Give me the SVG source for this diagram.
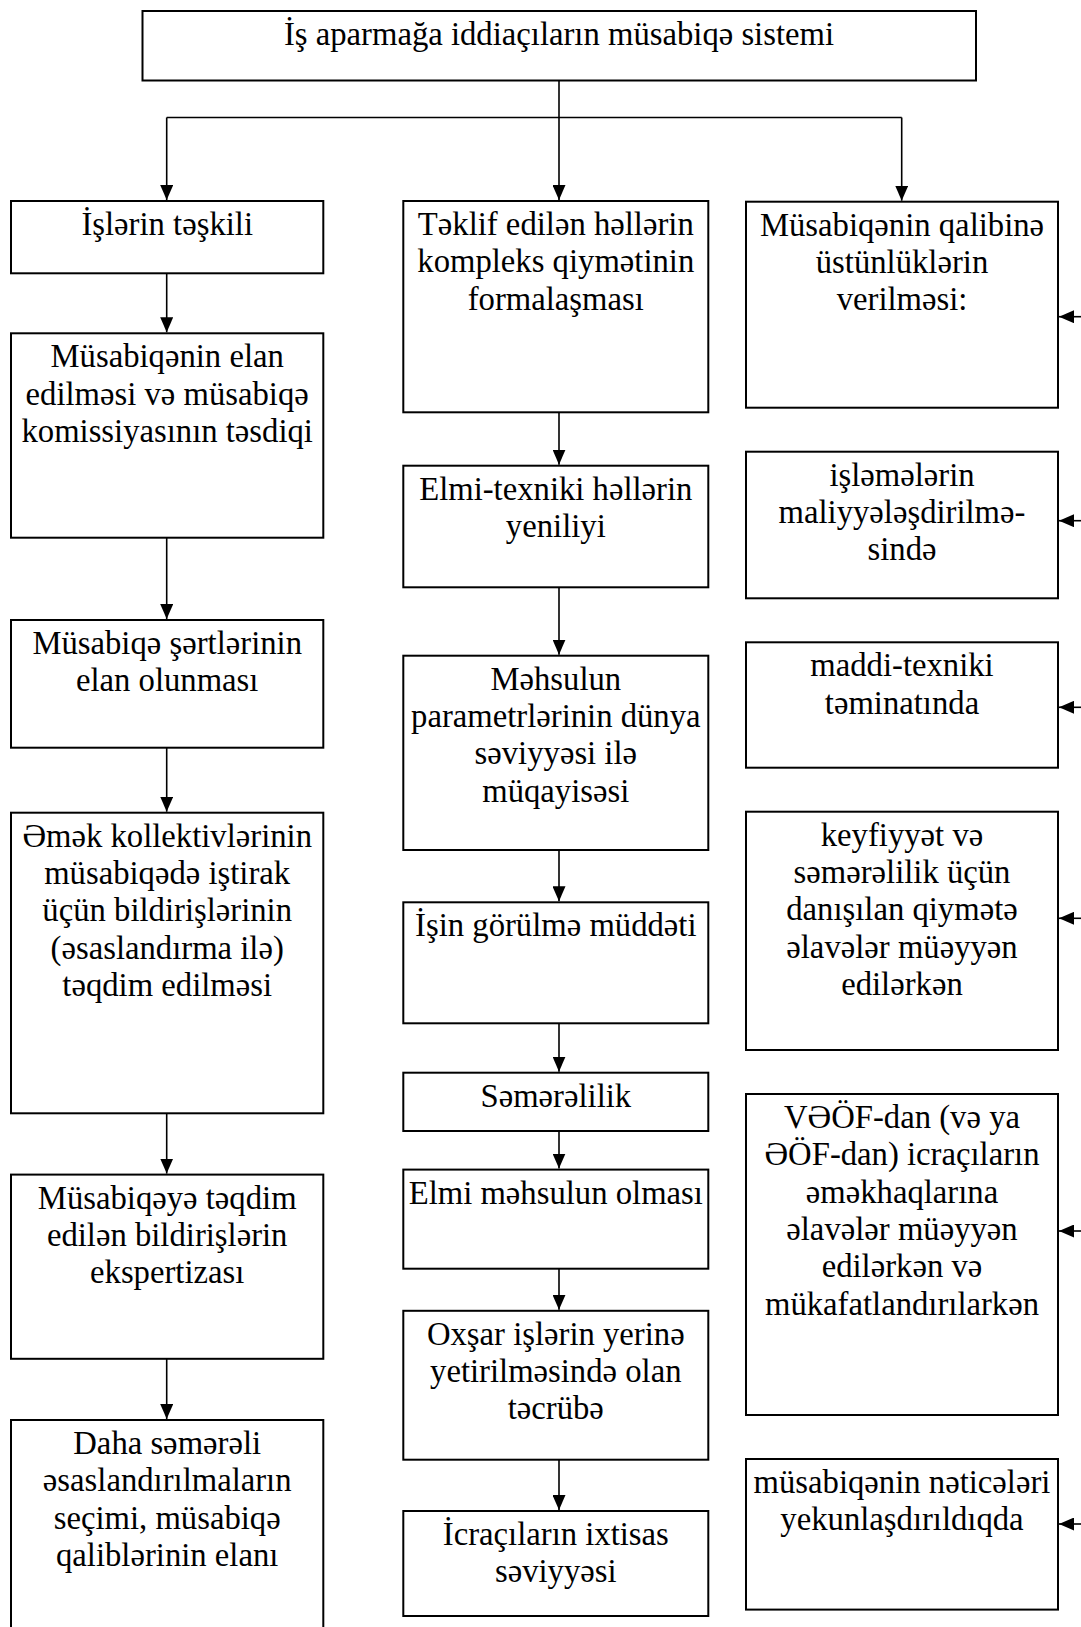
<svg xmlns="http://www.w3.org/2000/svg" width="1081" height="1627" viewBox="0 0 1081 1627">
<style>
  .box { fill: #ffffff; stroke: #000000; stroke-width: 2; }
  .t { font-family: "Liberation Serif", "Times New Roman", "DejaVu Serif", serif; font-size: 32.7px; fill: #000000; text-anchor: middle; }
  .ln { fill: none; stroke: #000000; stroke-width: 1.6; }
  .ar { fill: none; stroke: #000000; stroke-width: 1.6; marker-end: url(#ah); }
</style>
<defs>
  <marker id="ah" viewBox="0 0 15 13" refX="15" refY="6.5" markerWidth="15" markerHeight="13" markerUnits="userSpaceOnUse" orient="auto">
    <path d="M0,0 L15,6.5 L0,13 z" fill="#000000"/>
  </marker>
</defs>
<rect width="1081" height="1627" fill="#ffffff"/>

<g id="connectors">
  <line class="ar" x1="559" y1="80.5" x2="559" y2="200"/>
  <line class="ln" x1="166.7" y1="117.5" x2="901.7" y2="117.5"/>
  <line class="ar" x1="166.7" y1="117.5" x2="166.7" y2="200"/>
  <line class="ar" x1="901.7" y1="117.5" x2="901.7" y2="200.7"/>
  <line class="ar" x1="166.7" y1="273.3" x2="166.7" y2="332.3"/>
  <line class="ar" x1="166.7" y1="537.7" x2="166.7" y2="619"/>
  <line class="ar" x1="166.7" y1="747.7" x2="166.7" y2="811.7"/>
  <line class="ar" x1="166.7" y1="1113.3" x2="166.7" y2="1173.6"/>
  <line class="ar" x1="166.7" y1="1358.8" x2="166.7" y2="1419"/>
  <line class="ar" x1="559" y1="412.3" x2="559" y2="464.7"/>
  <line class="ar" x1="559" y1="587.3" x2="559" y2="654.7"/>
  <line class="ar" x1="559" y1="850" x2="559" y2="901.3"/>
  <line class="ar" x1="559" y1="1023.3" x2="559" y2="1071.7"/>
  <line class="ar" x1="559" y1="1131" x2="559" y2="1168.6"/>
  <line class="ar" x1="559" y1="1268.7" x2="559" y2="1309.8"/>
  <line class="ar" x1="559" y1="1459.7" x2="559" y2="1510"/>
  <line class="ar" x1="1083" y1="316.7" x2="1059" y2="316.7"/>
  <line class="ar" x1="1083" y1="520.7" x2="1059" y2="520.7"/>
  <line class="ar" x1="1083" y1="707.3" x2="1059" y2="707.3"/>
  <line class="ar" x1="1083" y1="918.3" x2="1059" y2="918.3"/>
  <line class="ar" x1="1083" y1="1231" x2="1059" y2="1231"/>
  <line class="ar" x1="1083" y1="1524" x2="1059" y2="1524"/>
</g>

<g id="n_top">
  <rect class="box" x="142.5" y="11" width="833.5" height="69.5"/>
  <text class="t" x="559" y="45">İş aparmağa iddiaçıların müsabiqə sistemi</text>
</g>

<g id="n_l1">
  <rect class="box" x="11" y="201" width="312.3" height="72.3"/>
  <text class="t" x="167.2" y="235">İşlərin təşkili</text>
</g>
<g id="n_l2">
  <rect class="box" x="11" y="333.3" width="312.3" height="204.4"/>
  <text class="t" x="167.2" y="367.3">Müsabiqənin elan</text>
  <text class="t" x="167.2" y="404.6">edilməsi və müsabiqə</text>
  <text class="t" x="167.2" y="441.9">komissiyasının təsdiqi</text>
</g>
<g id="n_l3">
  <rect class="box" x="11" y="620" width="312.3" height="127.7"/>
  <text class="t" x="167.2" y="654">Müsabiqə şərtlərinin</text>
  <text class="t" x="167.2" y="691.3">elan olunması</text>
</g>
<g id="n_l4">
  <rect class="box" x="11" y="812.7" width="312.3" height="300.6"/>
  <text class="t" x="167.2" y="846.7">Əmək kollektivlərinin</text>
  <text class="t" x="167.2" y="884">müsabiqədə iştirak</text>
  <text class="t" x="167.2" y="921.3">üçün bildirişlərinin</text>
  <text class="t" x="167.2" y="958.6">(əsaslandırma ilə)</text>
  <text class="t" x="167.2" y="995.9">təqdim edilməsi</text>
</g>
<g id="n_l5">
  <rect class="box" x="11" y="1174.6" width="312.3" height="184.2"/>
  <text class="t" x="167.2" y="1208.6">Müsabiqəyə təqdim</text>
  <text class="t" x="167.2" y="1245.9">edilən bildirişlərin</text>
  <text class="t" x="167.2" y="1283.2">ekspertizası</text>
</g>
<g id="n_l6">
  <rect class="box" x="11" y="1420" width="312.3" height="215"/>
  <text class="t" x="167.2" y="1454">Daha səmərəli</text>
  <text class="t" x="167.2" y="1491.3">əsaslandırılmaların</text>
  <text class="t" x="167.2" y="1528.6">seçimi, müsabiqə</text>
  <text class="t" x="167.2" y="1565.9">qaliblərinin elanı</text>
</g>

<g id="n_m1">
  <rect class="box" x="403.3" y="201" width="305" height="211.3"/>
  <text class="t" x="555.8" y="235">Təklif edilən həllərin</text>
  <text class="t" x="555.8" y="272.3">kompleks qiymətinin</text>
  <text class="t" x="555.8" y="309.6">formalaşması</text>
</g>
<g id="n_m2">
  <rect class="box" x="403.3" y="465.7" width="305" height="121.6"/>
  <text class="t" x="555.8" y="499.7">Elmi-texniki həllərin</text>
  <text class="t" x="555.8" y="537">yeniliyi</text>
</g>
<g id="n_m3">
  <rect class="box" x="403.3" y="655.7" width="305" height="194.3"/>
  <text class="t" x="555.8" y="689.7">Məhsulun</text>
  <text class="t" x="555.8" y="727">parametrlərinin dünya</text>
  <text class="t" x="555.8" y="764.3">səviyyəsi ilə</text>
  <text class="t" x="555.8" y="801.6">müqayisəsi</text>
</g>
<g id="n_m4">
  <rect class="box" x="403.3" y="902.3" width="305" height="121"/>
  <text class="t" x="555.8" y="936.3">İşin görülmə müddəti</text>
</g>
<g id="n_m5">
  <rect class="box" x="403.3" y="1072.7" width="305" height="58.3"/>
  <text class="t" x="555.8" y="1106.7">Səmərəlilik</text>
</g>
<g id="n_m6">
  <rect class="box" x="403.3" y="1169.6" width="305" height="99.1"/>
  <text class="t" x="555.8" y="1203.6">Elmi məhsulun olması</text>
</g>
<g id="n_m7">
  <rect class="box" x="403.3" y="1310.8" width="305" height="148.9"/>
  <text class="t" x="555.8" y="1344.8">Oxşar işlərin yerinə</text>
  <text class="t" x="555.8" y="1382.1">yetirilməsində olan</text>
  <text class="t" x="555.8" y="1419.4">təcrübə</text>
</g>
<g id="n_m8">
  <rect class="box" x="403.3" y="1511" width="305" height="105"/>
  <text class="t" x="555.8" y="1545">İcraçıların ixtisas</text>
  <text class="t" x="555.8" y="1582.3">səviyyəsi</text>
</g>

<g id="n_r1">
  <rect class="box" x="746" y="201.7" width="312" height="206"/>
  <text class="t" x="902" y="235.7">Müsabiqənin qalibinə</text>
  <text class="t" x="902" y="273">üstünlüklərin</text>
  <text class="t" x="902" y="310.3">verilməsi:</text>
</g>
<g id="n_r2">
  <rect class="box" x="746" y="451.7" width="312" height="146.6"/>
  <text class="t" x="902" y="485.7">işləmələrin</text>
  <text class="t" x="902" y="523">maliyyələşdirilmə-</text>
  <text class="t" x="902" y="560.3">sində</text>
</g>
<g id="n_r3">
  <rect class="box" x="746" y="642.3" width="312" height="125.4"/>
  <text class="t" x="902" y="676.3">maddi-texniki</text>
  <text class="t" x="902" y="713.6">təminatında</text>
</g>
<g id="n_r4">
  <rect class="box" x="746" y="811.7" width="312" height="238.3"/>
  <text class="t" x="902" y="845.7">keyfiyyət və</text>
  <text class="t" x="902" y="883">səmərəlilik üçün</text>
  <text class="t" x="902" y="920.3">danışılan qiymətə</text>
  <text class="t" x="902" y="957.6">əlavələr müəyyən</text>
  <text class="t" x="902" y="994.9">edilərkən</text>
</g>
<g id="n_r5">
  <rect class="box" x="746" y="1094" width="312" height="321"/>
  <text class="t" x="902" y="1128">VƏÖF-dan (və ya</text>
  <text class="t" x="902" y="1165.3">ƏÖF-dan) icraçıların</text>
  <text class="t" x="902" y="1202.6">əməkhaqlarına</text>
  <text class="t" x="902" y="1239.9">əlavələr müəyyən</text>
  <text class="t" x="902" y="1277.2">edilərkən və</text>
  <text class="t" x="902" y="1314.5">mükafatlandırılarkən</text>
</g>
<g id="n_r6">
  <rect class="box" x="746" y="1459" width="312" height="150.6"/>
  <text class="t" x="902" y="1493">müsabiqənin nəticələri</text>
  <text class="t" x="902" y="1530.3">yekunlaşdırıldıqda</text>
</g>
</svg>
